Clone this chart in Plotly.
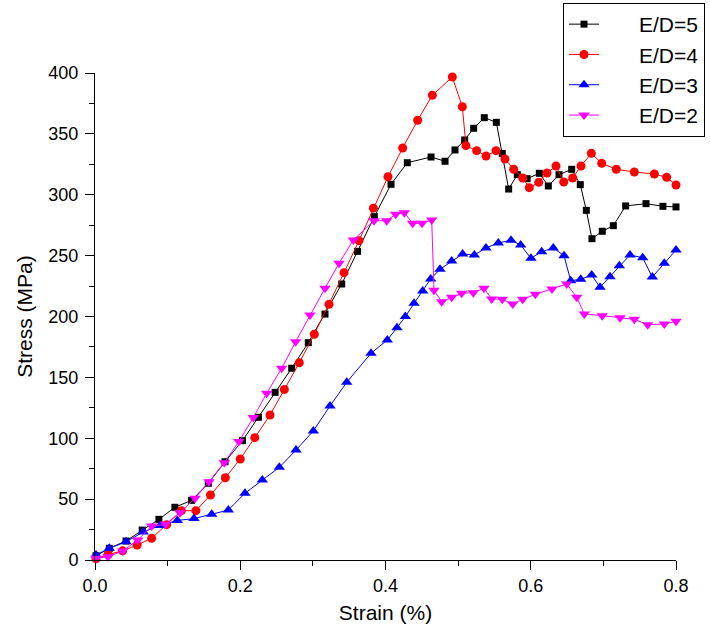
import plotly.graph_objects as go

# E/D=5 (black squares)
x5 = [0.0014, 0.0197, 0.0427, 0.065, 0.088, 0.110, 0.133, 0.156, 0.179, 0.203, 0.225, 0.248,
      0.2708, 0.2937, 0.3167, 0.3397, 0.3615, 0.3846, 0.4076, 0.43, 0.4627, 0.482, 0.4957,
      0.509, 0.5214, 0.536, 0.5526, 0.5608, 0.5696, 0.5815, 0.595, 0.6118, 0.6242, 0.6389,
      0.6564, 0.6682, 0.6765, 0.6843, 0.6985, 0.7137, 0.7307, 0.7587, 0.782, 0.8]
y5 = [3.5, 9.6, 15.6, 24.6, 33.4, 43.3, 49.0, 63.0, 80.7, 98.0, 117.2, 137.7,
      157.5, 178.5, 202.0, 226.7, 253.5, 282.0, 308.6, 326.3, 331.0, 327.5, 336.8,
      345.0, 354.6, 363.3, 359.5, 334.0, 304.7, 316.5, 313.2, 317.6, 307.2, 316.5,
      320.9, 308.3, 287.2, 263.9, 270.0, 274.6, 290.8, 292.7, 290.5, 290.0]

# E/D=4 (red circles)
x4 = [0.0014, 0.018, 0.038, 0.058, 0.078, 0.0987, 0.119, 0.139, 0.159, 0.1795, 0.2, 0.22,
      0.241, 0.2607, 0.2813, 0.302, 0.3222, 0.3429, 0.3635, 0.3833, 0.4034, 0.4236, 0.4443,
      0.4645, 0.492, 0.5058, 0.5108, 0.5255, 0.5384, 0.5521, 0.5645, 0.5765, 0.5889, 0.598,
      0.611, 0.6224, 0.6348, 0.6454, 0.6578, 0.6692, 0.6834, 0.6977, 0.7178, 0.7426, 0.7702,
      0.7872, 0.8]
y4 = [1.0, 4.5, 7.5, 12.3, 17.8, 29.0, 40.5, 40.5, 53.4, 67.6, 83.0, 100.5,
      119.1, 140.0, 162.0, 185.4, 210.0, 236.0, 262.3, 289.0, 314.8, 338.4, 361.2,
      381.7, 396.7, 372.3, 340.3, 336.2, 331.8, 336.2, 329.4, 320.9, 313.8, 305.8,
      310.2, 317.9, 323.6, 310.5, 313.8, 323.6, 334.0, 325.8, 320.9, 318.7, 317.0,
      314.3, 308.0]

# E/D=3 (blue up-triangles)
x3 = [0.0014, 0.0197, 0.0427, 0.0665, 0.0895, 0.1133, 0.1363, 0.1607, 0.1836, 0.2065,
      0.2304, 0.2538, 0.2768, 0.3006, 0.3236, 0.3466, 0.38, 0.4025, 0.4158, 0.4273, 0.4393,
      0.4512, 0.4622, 0.475, 0.4911, 0.5062, 0.5223, 0.5384, 0.5553, 0.5728, 0.5861, 0.6003,
      0.615, 0.631, 0.6458, 0.655, 0.6688, 0.6839, 0.6954, 0.7091, 0.722, 0.7367, 0.7541,
      0.7674, 0.7839, 0.8]
y3 = [4.1, 9.6, 15.0, 23.0, 28.3, 32.5, 34.0, 37.5, 41.0, 54.8,
      65.7, 76.1, 90.3, 106.0, 126.5, 146.0, 169.8, 180.7, 190.8, 199.9, 210.8,
      221.0, 230.8, 238.8, 245.6, 251.3, 250.5, 256.3, 260.4, 262.6, 258.7, 247.8,
      253.2, 256.3, 250.0, 229.4, 230.5, 234.1, 224.0, 232.7, 241.7, 250.5, 248.3,
      232.4, 243.7, 254.6]

# E/D=2 (magenta down-triangles)
x2 = [0.0014, 0.018, 0.038, 0.0588, 0.078, 0.0973, 0.117, 0.1377, 0.157, 0.178, 0.198,
      0.218, 0.2364, 0.257, 0.2763, 0.296, 0.3167, 0.336, 0.3557, 0.3842, 0.4016, 0.414,
      0.4259, 0.4374, 0.4503, 0.4636, 0.4668, 0.4773, 0.4911, 0.5049, 0.5209, 0.5356,
      0.5462, 0.5608, 0.5751, 0.5889, 0.6063, 0.6292, 0.6495, 0.6633, 0.6738, 0.6985,
      0.7229, 0.7426, 0.761, 0.7839, 0.8]
y2 = [1.4, 2.7, 7.4, 16.4, 27.9, 29.3, 38.9, 50.7, 64.3, 79.9, 97.3,
      117.0, 136.9, 157.5, 179.3, 201.2, 223.2, 243.7, 262.8, 278.7, 278.7, 283.9,
      285.3, 276.5, 276.5, 279.3, 221.5, 212.2, 215.8, 219.0, 219.6, 223.2,
      214.4, 214.1, 210.3, 214.1, 218.2, 222.6, 226.7, 215.8, 202.0, 200.7,
      199.0, 197.7, 193.3, 193.8, 196.0]

x_ticks = [0.0, 0.2, 0.4, 0.6, 0.8]
x_tick_labels = ["0.0", "0.2", "0.4", "0.6", "0.8"]
y_ticks = [0, 50, 100, 150, 200, 250, 300, 350, 400]

series = [
    ("E/D=5", x5, y5, "#000000", "square", 7),
    ("E/D=4", x4, y4, "#ff0000", "circle", 9),
    ("E/D=3", x3, y3, "#0000ff", "triangle-up", 10),
    ("E/D=2", x2, y2, "#ff00ff", "triangle-down", 10),
]

pad = "\u00a0" * 6
fig = go.Figure()
for name, xs, ys, col, sym, sz in series:
    fig.add_trace(go.Scatter(
        x=xs, y=ys, name=pad + name, mode="lines+markers",
        line=dict(color=col, width=1),
        marker=dict(color=col, symbol=sym, size=sz, line=dict(width=0)),
        cliponaxis=False,
    ))

font_family = "Liberation Sans, Arial, sans-serif"
fig.update_layout(
    width=710, height=638,
    margin=dict(l=95, r=34, t=73, b=78, autoexpand=False),
    paper_bgcolor="white", plot_bgcolor="white",
    font=dict(family=font_family, color="black", size=18),
    showlegend=True,
    legend=dict(
        xref="container", yref="container",
        x=563 / 710, y=1 - 3 / 638, xanchor="left", yanchor="top",
        bgcolor="white", bordercolor="black", borderwidth=1,
        font=dict(size=21, family=font_family, color="black"),
        tracegroupgap=0,
    ),
    xaxis=dict(
        range=[0, 0.8], tickvals=x_ticks, ticktext=x_tick_labels,
        showgrid=False, zeroline=False, showline=True, linecolor="black", linewidth=1,
        ticks="outside", ticklen=9, tickwidth=1, tickcolor="black",
        tickfont=dict(size=18), ticklabelstandoff=0,
        minor=dict(ticks="outside", ticklen=5, tickwidth=1, tickcolor="black", dtick=0.1,
                   showgrid=False),
        title=dict(text="Strain (%)", font=dict(size=21), standoff=10),
    ),
    yaxis=dict(
        range=[0, 400], tickvals=y_ticks,
        showgrid=False, zeroline=False, showline=True, linecolor="black", linewidth=1,
        ticks="outside", ticklen=9, tickwidth=1, tickcolor="black",
        tickfont=dict(size=18), ticklabelstandoff=3,
        minor=dict(ticks="outside", ticklen=5, tickwidth=1, tickcolor="black", dtick=25,
                   showgrid=False),
        title=dict(text="Stress (MPa)", font=dict(size=21), standoff=10),
    ),
)

fig.write_html("out.html")
